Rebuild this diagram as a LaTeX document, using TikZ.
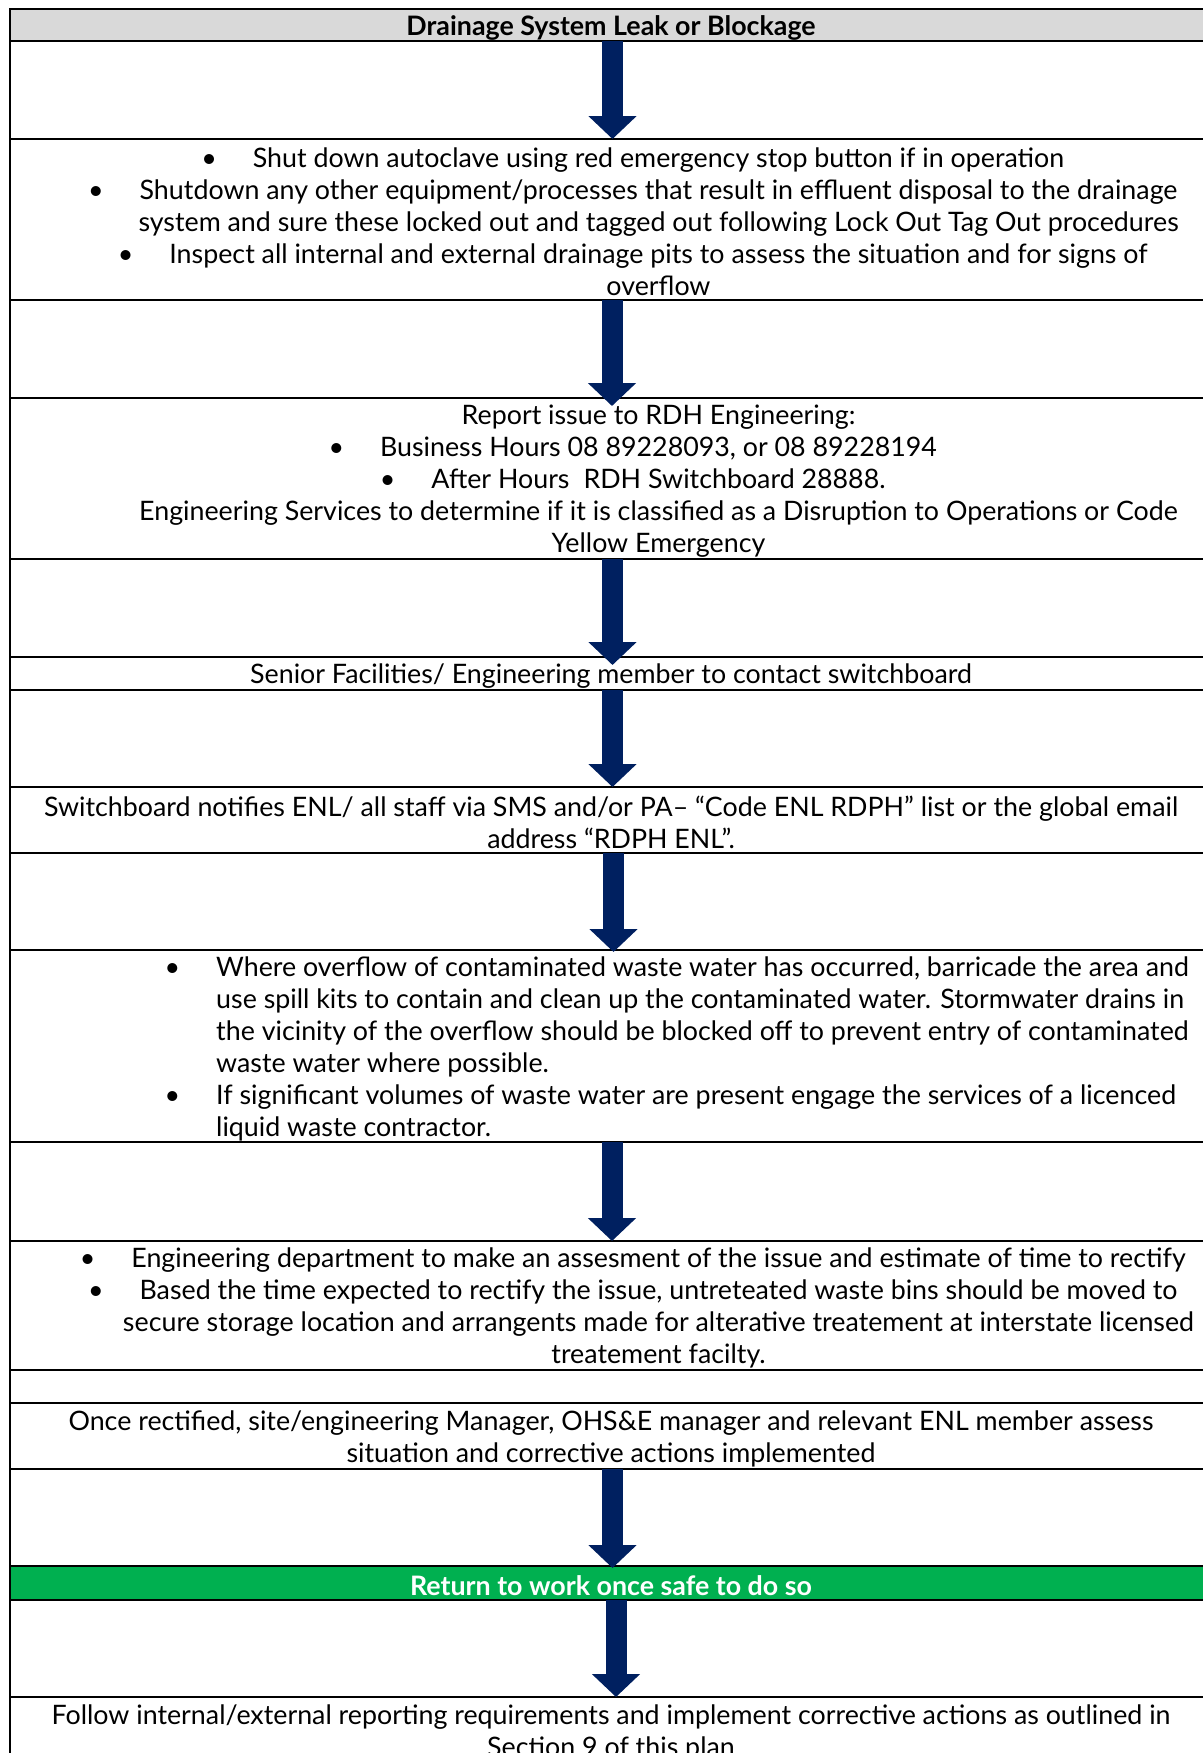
\documentclass[tikz,border=0pt]{standalone}
\usepackage{fontspec}
\setmainfont{Lato}
\usetikzlibrary{arrows.meta}
\definecolor{navy}{HTML}{002060}
\definecolor{hdrgray}{HTML}{D9D9D9}
\definecolor{okgreen}{HTML}{00B050}
\newcommand{\bodyfont}{\fontsize{26.8}{32}\selectfont}
\newcommand{\bul}{\llap{\textbullet\hspace{36pt}}}
\begin{document}
\begin{tikzpicture}[
  x=1pt, y=-1pt,
  every node/.style={font=\bodyfont},
  row/.style={draw, fill=#1, line width=2.5pt, minimum width=1202pt, inner sep=0pt, outer sep=0pt, anchor=north west},
  txt/.style={align=center, inner sep=0pt, yshift=-2.5pt},
  flow/.style={draw=navy, line width=21pt, -{Triangle[width=47pt,length=23pt]}}
]
  \useasboundingbox (0,0) rectangle (1202,1753);
  \foreach \t/\b/\c [count=\i from 0] in {9/41/hdrgray, 41/139/white, 139/300/white, 300/398/white,
      398/559/white, 559/657/white, 657/690/white, 690/787/white, 787/853/white, 853/950/white,
      950/1142/white, 1142/1241/white, 1241/1370/white, 1370/1403/white, 1403/1469/white,
      1469/1566/white, 1566/1600/okgreen, 1600/1697/white, 1697/1790/white}
    \node[row=\c, minimum height=\b-\t] (r\i) at (10,\t) {};

  \node[txt, font=\bodyfont\bfseries] (title) at (r0.center) {Drainage System Leak or Blockage};
  \node[txt] (shutdown) at ([xshift=47.5pt]r2.center) {%
    \bul Shut down autoclave using red emergency stop button if in operation\\
    \bul Shutdown any other equipment/processes that result in effluent disposal to the drainage\\
    system and sure these locked out and tagged out following Lock Out Tag Out procedures\\
    \bul Inspect all internal and external drainage pits to assess the situation and for signs of\\
    overflow};
  \node[txt] (report) at ([xshift=47.5pt]r4.center) {%
    Report issue to RDH Engineering:\\
    \bul Business Hours 08 89228093, or 08 89228194\\
    \bul After Hours\hspace{14pt}RDH Switchboard 28888.\\
    Engineering Services to determine if it is classified as a Disruption to Operations or Code\\
    Yellow Emergency};
  \node[txt] (senior) at (r6.center) {Senior Facilities/ Engineering member to contact switchboard};
  \node[txt] (notify) at (r8.center) {%
    Switchboard notifies ENL/ all staff via SMS and/or PA– “Code ENL RDPH” list or the global email\\
    address “RDPH ENL”.};
  \node[txt, align=left, anchor=west] (spill) at ([xshift=206pt]r10.west) {%
    \bul Where overflow of contaminated waste water has occurred, barricade the area and\\
    use spill kits to contain and clean up the contaminated water. Stormwater drains in\\
    the vicinity of the overflow should be blocked off to prevent entry of contaminated\\
    waste water where possible.\\
    \bul If significant volumes of waste water are present engage the services of a licenced\\
    liquid waste contractor.};
  \node[txt] (assess) at ([xshift=47.5pt]r12.center) {%
    \bul Engineering department to make an assesment of the issue and estimate of time to rectify\\
    \bul Based the time expected to rectify the issue, untreteated waste bins should be moved to\\
    secure storage location and arrangents made for alterative treatement at interstate licensed\\
    treatement facilty.};
  \node[txt] (rectified) at (r14.center) {%
    Once rectified, site/engineering Manager, OHS\&E manager and relevant ENL member assess\\
    situation and corrective actions implemented};
  \node[txt, text=white, font=\bodyfont\bfseries] (resume) at (r16.center) {Return to work once safe to do so};
  \node[txt, anchor=north] (follow) at ([yshift=-5pt]r18.north) {%
    Follow internal/external reporting requirements and implement corrective actions as outlined in\\
    Section 9 of this plan};

  \foreach \r/\dx/\dy in {1/1.5/0, 3/1/8, 5/1.5/8, 7/1.5/0, 9/2.5/2, 11/1/0, 15/1.5/2, 17/5/0}
    \draw[flow] ([xshift=\dx pt]r\r.north) -- ([xshift=\dx pt, yshift=-\dy pt]r\r.south);
\end{tikzpicture}
\end{document}
